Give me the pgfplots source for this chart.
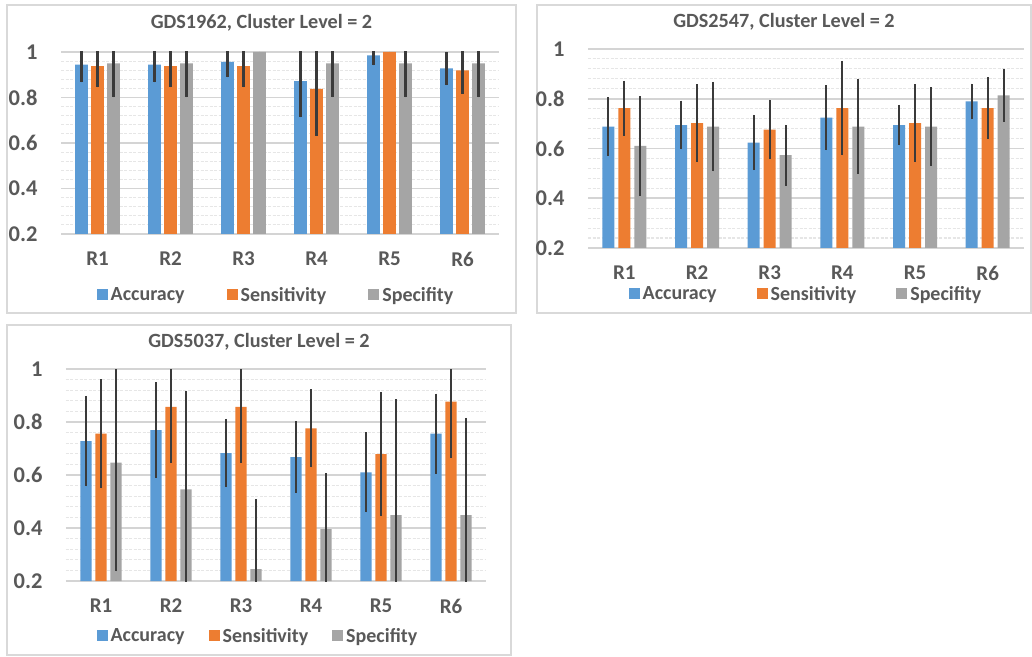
\documentclass[border=0pt]{standalone}
\usepackage{fontspec}
\setmainfont{Carlito}
\usepackage{pgfplots}
\pgfplotsset{compat=1.18}
\usepackage{pgfplotstable}
\definecolor{cblue}{HTML}{5B9BD5}
\definecolor{corange}{HTML}{ED7D31}
\definecolor{cgray}{HTML}{A5A5A5}
\definecolor{ctext}{HTML}{595959}
\definecolor{cgrid}{HTML}{D4D4D4}
\definecolor{cminor}{HTML}{E6E6E6}
\definecolor{cframe}{HTML}{D9D9D9}
\definecolor{cerr}{HTML}{3A3A3A}

\pgfplotstableread{
x acc accE sens sensE spec specE
0 0.944 0.077 0.938 0.094 0.950 0.150
1 0.944 0.077 0.938 0.094 0.950 0.150
2 0.957 0.069 0.938 0.094 1.000 0.000
3 0.872 0.159 0.838 0.208 0.950 0.150
4 0.985 0.044 1.000 0.000 0.950 0.150
5 0.928 0.074 0.919 0.103 0.950 0.150
}\dataA
\pgfplotstableread{
x acc accE sens sensE spec specE
0 0.688 0.118 0.762 0.110 0.611 0.200
1 0.694 0.098 0.702 0.157 0.688 0.180
2 0.624 0.111 0.676 0.120 0.573 0.122
3 0.724 0.131 0.762 0.190 0.688 0.190
4 0.694 0.081 0.702 0.157 0.688 0.158
5 0.789 0.072 0.762 0.124 0.814 0.107
}\dataB
\pgfplotstableread{
x acc accE sens sensE spec specE
0 0.728 0.171 0.756 0.206 0.647 0.411
1 0.769 0.181 0.857 0.210 0.546 0.372
2 0.683 0.129 0.857 0.210 0.245 0.263
3 0.667 0.135 0.776 0.147 0.396 0.210
4 0.610 0.151 0.679 0.234 0.449 0.437
5 0.756 0.151 0.877 0.213 0.449 0.367
}\dataC

\pgfplotsset{
  sqlegend/.style={legend image code/.code={\fill[##1] (0pt,-5.5pt) rectangle (11pt,5.5pt); \path (12pt,0pt);}},
  panel/.style={
    scale only axis,
    /pgf/number format/assume math mode=true,
    ymin=0.2, ymax=1, xmin=-0.5, xmax=5.5,
    ytick={0.2,0.4,0.6,0.8,1},
    minor y tick num=4,
    xtick={0,1,2,3,4,5},
    xticklabels={R1,R2,R3,R4,R5,R6},
    ymajorgrids, yminorgrids,
    major grid style={cgrid, line width=1.6pt},
    minor grid style={cminor, line width=1.1pt, dash pattern=on 3pt off 1.5pt},
    axis line style={draw=none},
    tick style={draw=none},
    yticklabel style={font=\bfseries\fontsize{22.5}{23}\selectfont, text=ctext, xshift=-20pt},
    xticklabel style={font=\bfseries\fontsize{21}{21}\selectfont, text=ctext, yshift=-10pt},
    legend columns=3,
    legend style={draw=none, fill=none, anchor=center,
      font=\bfseries\fontsize{20}{21}\selectfont, text=ctext},
    every axis plot/.append style={draw=none,
      error bars/y dir=both, error bars/y explicit,
      error bars/error mark=none,
      error bars/error bar style={line width=2.3pt, color=cerr}},
    every axis plot post/.append style={sqlegend},
  }
}

\begin{document}
\begin{tikzpicture}
\useasboundingbox (0pt,0pt) rectangle (1032pt,656pt);
\fill[white] (0pt,0pt) rectangle (1032pt,656pt);
% frames
\draw[cframe, line width=1.8pt] (7pt,343pt) rectangle (516pt,651pt);
\draw[cframe, line width=1.8pt] (537pt,343pt) rectangle (1031pt,651pt);
\draw[cframe, line width=1.8pt] (7pt,1pt) rectangle (511pt,331pt);
% titles
\node[font=\bfseries\fontsize{20.2}{21}\selectfont, text=ctext] at (261.5pt,633pt) {GDS1962, Cluster Level = 2};
\node[font=\bfseries\fontsize{20.2}{21}\selectfont, text=ctext] at (784pt,634pt) {GDS2547, Cluster Level = 2};
\node[font=\bfseries\fontsize{20.2}{21}\selectfont, text=ctext] at (259pt,314pt) {GDS5037, Cluster Level = 2};

% Panel 1
\begin{axis}[panel, at={(61pt,422pt)}, anchor=south west,
  width=438pt, height=182pt,
  ybar=3.3pt, bar width=12.7pt,
  legend style={at={(0.491,-0.335)}, /tikz/every even column/.append style={column sep=40pt}}]
\addplot[fill=cblue] table[x=x, y=acc, y error=accE] {\dataA};
\addplot[fill=corange] table[x=x, y=sens, y error=sensE] {\dataA};
\addplot[fill=cgray] table[x=x, y=spec, y error=specE] {\dataA};
\legend{Accuracy, Sensitivity, Specifity}
\end{axis}

% Panel 2
\begin{axis}[panel, at={(588pt,408pt)}, anchor=south west,
  width=436pt, height=199pt,
  ybar=4pt, bar width=12pt,
  legend style={at={(0.5,-0.231)}, /tikz/every even column/.append style={column sep=38pt}}]
\addplot[fill=cblue] table[x=x, y=acc, y error=accE] {\dataB};
\addplot[fill=corange] table[x=x, y=sens, y error=sensE] {\dataB};
\addplot[fill=cgray] table[x=x, y=spec, y error=specE] {\dataB};
\legend{Accuracy, Sensitivity, Specifity}
\end{axis}

% Panel 3
\begin{axis}[panel, at={(66pt,75pt)}, anchor=south west,
  width=420pt, height=212pt,
  ybar=3.7pt, bar width=11.3pt,
  legend style={at={(0.457,-0.259)}, /tikz/every even column/.append style={column sep=22pt}}]
\addplot[fill=cblue] table[x=x, y=acc, y error=accE] {\dataC};
\addplot[fill=corange] table[x=x, y=sens, y error=sensE] {\dataC};
\addplot[fill=cgray] table[x=x, y=spec, y error=specE] {\dataC};
\legend{Accuracy, Sensitivity, Specifity}
\end{axis}
\end{tikzpicture}
\end{document}
